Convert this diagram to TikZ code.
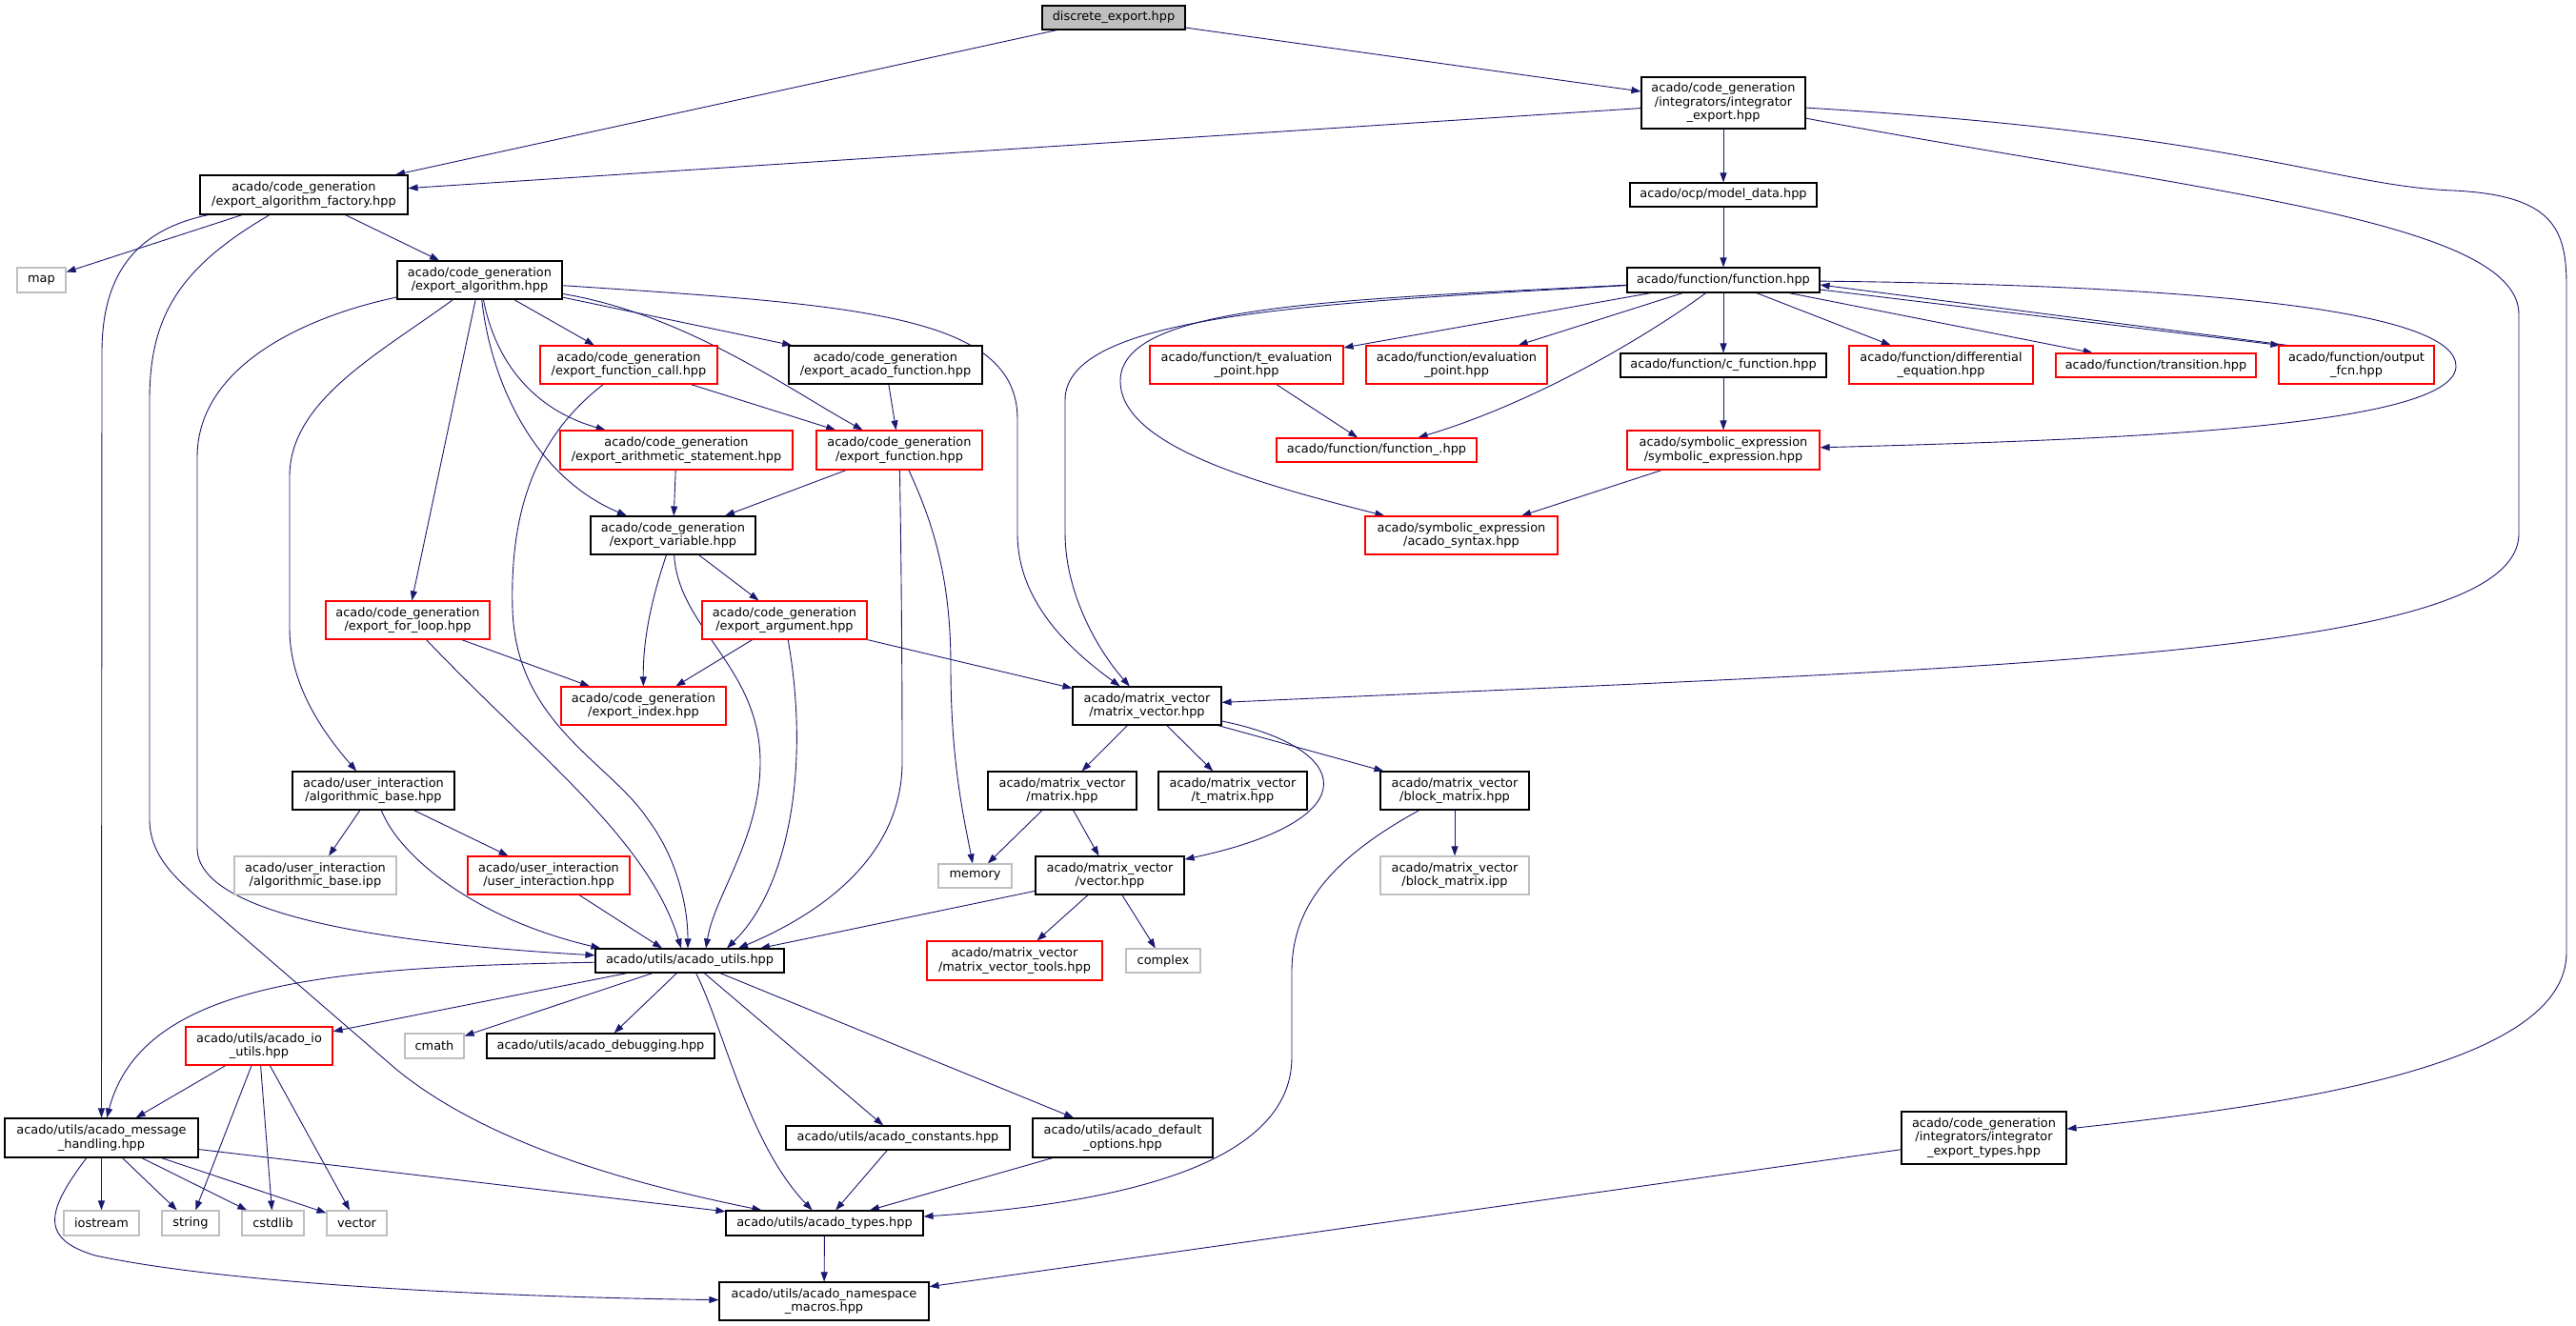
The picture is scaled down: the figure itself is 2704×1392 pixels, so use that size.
\documentclass[tikz,border=0pt]{standalone}
\usepackage{fontspec}
\usepackage{tikz}
\usetikzlibrary{arrows.meta}
\newfontfamily\graphfont{DejaVu Sans}
\definecolor{edgeblue}{RGB}{25,25,112}
\definecolor{boxgray}{RGB}{191,191,191}
\pgfdeclarelayer{edges}
\pgfsetlayers{edges,main}

\begin{document}
\begin{tikzpicture}[x=1pt,y=-1pt,>={Triangle[length=10pt,width=7pt]},
  hfile/.style={draw=black,fill=white,line width=1.1pt,inner sep=0pt,align=center,
    font=\graphfont\fontsize{12.9}{14.5}\selectfont},
  partial/.style={hfile,draw=red},
  sysfile/.style={hfile,draw=boxgray},
  wh/.style 2 args={minimum width=#1pt,minimum height=#2pt},
  inc/.style={->,edgeblue,line width=0.9pt}]

  \node[hfile,fill=boxgray,wh={150}{25}] (root) at (1169,18.5) {discrete\_export.hpp};
  \node[hfile,wh={172}{54}] (intexp) at (1809,108) {acado/code\_generation\\/integrators/integrator\\\_export.hpp};
  \node[hfile,wh={218}{41}] (factory) at (319,204.5) {acado/code\_generation\\/export\_algorithm\_factory.hpp};
  \node[hfile,wh={196}{25}] (modeldata) at (1809,204.5) {acado/ocp/model\_data.hpp};
  \node[sysfile,wh={51}{26}] (map) at (43.5,294) {map};
  \node[hfile,wh={173}{40}] (algo) at (503.5,294) {acado/code\_generation\\/export\_algorithm.hpp};
  \node[hfile,wh={202}{26}] (func) at (1809,294) {acado/function/function.hpp};
  \node[partial,wh={186}{40}] (fcall) at (660,383) {acado/code\_generation\\/export\_function\_call.hpp};
  \node[hfile,wh={203}{40}] (acadofn) at (929.5,383) {acado/code\_generation\\/export\_acado\_function.hpp};
  \node[partial,wh={203}{40}] (tevalpt) at (1308.5,383) {acado/function/t\_evaluation\\\_point.hpp};
  \node[partial,wh={190}{40}] (evalpt) at (1529,383) {acado/function/evaluation\\\_point.hpp};
  \node[hfile,wh={216}{25}] (cfunc) at (1809,383.5) {acado/function/c\_function.hpp};
  \node[partial,wh={193}{40}] (diffeq) at (2037.5,383) {acado/function/differential\\\_equation.hpp};
  \node[partial,wh={210}{25}] (transition) at (2263,383.5) {acado/function/transition.hpp};
  \node[partial,wh={163}{40}] (outfcn) at (2473.5,383) {acado/function/output\\\_fcn.hpp};
  \node[partial,wh={244}{41}] (arith) at (710,472.5) {acado/code\_generation\\/export\_arithmetic\_statement.hpp};
  \node[partial,wh={174}{41}] (expfn) at (944,472.5) {acado/code\_generation\\/export\_function.hpp};
  \node[partial,wh={210}{25}] (funcu) at (1445,472.5) {acado/function/function\_.hpp};
  \node[partial,wh={202}{41}] (symexp) at (1809,472.5) {acado/symbolic\_expression\\/symbolic\_expression.hpp};
  \node[hfile,wh={173}{40}] (variable) at (706.5,562) {acado/code\_generation\\/export\_variable.hpp};
  \node[partial,wh={202}{40}] (syntax) at (1534,562) {acado/symbolic\_expression\\/acado\_syntax.hpp};
  \node[partial,wh={172}{40}] (forloop) at (428,651) {acado/code\_generation\\/export\_for\_loop.hpp};
  \node[partial,wh={173}{40}] (argument) at (823.5,651) {acado/code\_generation\\/export\_argument.hpp};
  \node[partial,wh={173}{40}] (index) at (675.5,741) {acado/code\_generation\\/export\_index.hpp};
  \node[hfile,wh={156}{40}] (mv) at (1204,741) {acado/matrix\_vector\\/matrix\_vector.hpp};
  \node[hfile,wh={170}{40}] (algbase) at (392,830) {acado/user\_interaction\\/algorithmic\_base.hpp};
  \node[hfile,wh={156}{40}] (matrix) at (1115,830) {acado/matrix\_vector\\/matrix.hpp};
  \node[hfile,wh={156}{40}] (tmatrix) at (1294,830) {acado/matrix\_vector\\/t\_matrix.hpp};
  \node[hfile,wh={156}{40}] (blockm) at (1527,830) {acado/matrix\_vector\\/block\_matrix.hpp};
  \node[sysfile,wh={170}{40}] (algipp) at (331,919) {acado/user\_interaction\\/algorithmic\_base.ipp};
  \node[partial,wh={170}{40}] (uinter) at (576,919) {acado/user\_interaction\\/user\_interaction.hpp};
  \node[sysfile,wh={77}{25}] (memory) at (1023.5,919.5) {memory};
  \node[hfile,wh={156}{40}] (vector) at (1165,919) {acado/matrix\_vector\\/vector.hpp};
  \node[sysfile,wh={156}{40}] (blockipp) at (1527,919) {acado/matrix\_vector\\/block\_matrix.ipp};
  \node[partial,wh={184}{41}] (tools) at (1065,1008.5) {acado/matrix\_vector\\/matrix\_vector\_tools.hpp};
  \node[sysfile,wh={78}{25}] (complex) at (1221,1008.5) {complex};
  \node[hfile,wh={198}{25}] (utils) at (724,1008.5) {acado/utils/acado\_utils.hpp};
  \node[partial,wh={154}{40}] (ioutils) at (272,1098) {acado/utils/acado\_io\\\_utils.hpp};
  \node[sysfile,wh={62}{26}] (cmath) at (456,1098) {cmath};
  \node[hfile,wh={239}{26}] (debug) at (630.5,1098) {acado/utils/acado\_debugging.hpp};
  \node[hfile,wh={203}{41}] (msg) at (106.5,1194.5) {acado/utils/acado\_message\\\_handling.hpp};
  \node[hfile,wh={235}{25}] (constants) at (942.5,1194.5) {acado/utils/acado\_constants.hpp};
  \node[hfile,wh={189}{41}] (defopt) at (1178.5,1194.5) {acado/utils/acado\_default\\\_options.hpp};
  \node[hfile,wh={173}{55}] (inttypes) at (2082.5,1194.5) {acado/code\_generation\\/integrators/integrator\\\_export\_types.hpp};
  \node[sysfile,wh={79}{26}] (iostream) at (106.5,1284) {iostream};
  \node[sysfile,wh={60}{26}] (string) at (200,1284) {string};
  \node[sysfile,wh={65}{26}] (cstdlib) at (286.5,1284) {cstdlib};
  \node[sysfile,wh={63}{26}] (stdvector) at (374.5,1284) {vector};
  \node[hfile,wh={207}{26}] (types) at (865.5,1284) {acado/utils/acado\_types.hpp};
  \node[hfile,wh={220}{40}] (macros) at (865,1366) {acado/utils/acado\_namespace\\\_macros.hpp};

  \begin{pgfonlayer}{edges}
  \fill[white] (0,0) rectangle (2704,1392);
  \draw[inc] (root) -- (factory);
  \draw[inc] (root) -- (intexp);
  \draw[inc] (intexp) -- (factory);
  \draw[inc] (intexp) -- (modeldata);
  \draw[inc] (intexp) .. controls (2300,200) and (2644,230) .. (2644,330) -- (2644,560) .. controls (2644,690) and (2100,700) .. (mv);
  \draw[inc] (intexp) .. controls (2350,140) and (2450,195) .. (2575,200) .. controls (2680,205) and (2694,240) .. (2694,300) -- (2694,1000) .. controls (2694,1120) and (2400,1160) .. (inttypes);
  \draw[inc] (inttypes) -- (macros);
  \draw[inc] (modeldata) -- (func);
  \draw[inc] (func) -- (tevalpt);
  \draw[inc] (func) -- (evalpt);
  \draw[inc] (func) .. controls (1740,345) and (1620,420) .. (funcu);
  \draw[inc] (func) -- (cfunc);
  \draw[inc] (func) -- (diffeq);
  \draw[inc] (func) -- (transition);
  \draw[inc] ([yshift=-10pt]func.east) -- ([xshift=2pt]outfcn.north west);
  \draw[inc] ([xshift=10pt]outfcn.north west) -- ([yshift=-5pt]func.east);
  \draw[inc] (func) .. controls (2350,300) and (2580,330) .. (2578,385) .. controls (2575,450) and (2200,462) .. (symexp);
  \draw[inc] (func) .. controls (1400,315) and (1176,320) .. (1176,400) .. controls (1176,470) and (1330,510) .. (syntax);
  \draw[inc] (func) .. controls (1380,318) and (1118,330) .. (1118,420) -- (1118,560) .. controls (1118,620) and (1150,680) .. (mv);
  \draw[inc] (factory) -- (map);
  \draw[inc] (factory) -- (algo);
  \draw[inc] (factory) .. controls (150,240) and (107,280) .. (107,370) -- (msg);
  \draw[inc] (factory) .. controls (190,280) and (157,330) .. (157,420) -- (157,860) .. controls (157,895) and (180,918) .. (205,940) -- (413,1120) .. controls (520,1210) and (700,1250) .. (types);
  \draw[inc] (algo) .. controls (330,330) and (207,380) .. (207,480) -- (207,890) .. controls (207,960) and (400,990) .. (utils);
  \draw[inc] (algo) .. controls (400,370) and (304,420) .. (304,500) -- (304,660) .. controls (304,720) and (340,770) .. (algbase);
  \draw[inc] (algo) -- (forloop);
  \draw[inc] (algo) .. controls (515,400) and (560,500) .. (variable);
  \draw[inc] (algo) .. controls (520,380) and (560,430) .. (arith);
  \draw[inc] (algo) -- (fcall);
  \draw[inc] (algo) -- (acadofn);
  \draw[inc] (algo) .. controls (720,330) and (830,410) .. (expfn);
  \draw[inc] (algo) .. controls (900,320) and (1068,330) .. (1068,440) -- (1068,560) .. controls (1068,630) and (1120,680) .. (mv);
  \draw[inc] (fcall) -- (expfn);
  \draw[inc] (fcall) .. controls (560,460) and (535,540) .. (538,640) .. controls (542,760) and (640,800) .. (680,860) .. controls (710,900) and (722,950) .. ([xshift=-2pt]utils.north);
  \draw[inc] (arith) -- (variable);
  \draw[inc] (acadofn) -- (expfn);
  \draw[inc] (expfn) -- (variable);
  \draw[inc] (expfn) .. controls (985,560) and (998,620) .. (998,700) .. controls (998,800) and (1012,860) .. (memory);
  \draw[inc] (expfn) .. controls (946,580) and (947,700) .. (947,800) .. controls (947,900) and (860,960) .. ([xshift=51pt]utils.north);
  \draw[inc] (variable) -- (argument);
  \draw[inc] (variable) .. controls (680,640) and (675,680) .. (index);
  \draw[inc] (variable) .. controls (712,660) and (798,700) .. (798,800) .. controls (798,880) and (750,940) .. ([xshift=17pt]utils.north);
  \draw[inc] (forloop) -- (index);
  \draw[inc] (forloop) .. controls (560,790) and (680,880) .. ([xshift=-9pt]utils.north);
  \draw[inc] (argument) -- (index);
  \draw[inc] (argument) .. controls (850,800) and (830,930) .. ([xshift=39pt]utils.north);
  \draw[inc] (argument) -- (mv);
  \draw[inc] (algbase) -- (algipp);
  \draw[inc] (algbase) -- (uinter);
  \draw[inc] (algbase) .. controls (420,900) and (500,965) .. ([xshift=6pt]utils.north west);
  \draw[inc] (uinter) -- ([xshift=-29pt]utils.north);
  \draw[inc] (vector) -- ([xshift=74pt]utils.north);
  \draw[inc] (mv) -- (matrix);
  \draw[inc] (mv) -- (tmatrix);
  \draw[inc] (mv) -- (blockm);
  \draw[inc] (mv) .. controls (1420,785) and (1440,860) .. (vector);
  \draw[inc] (matrix) -- (memory);
  \draw[inc] (matrix) -- (vector);
  \draw[inc] (blockm) -- (blockipp);
  \draw[inc] (blockm) .. controls (1400,900) and (1356,950) .. (1356,1020) -- (1356,1110) .. controls (1356,1230) and (1150,1265) .. (types);
  \draw[inc] (vector) -- (tools);
  \draw[inc] (vector) -- (complex);
  \draw[inc] (utils) .. controls (350,1015) and (150,1030) .. (msg);
  \draw[inc] (utils) -- (ioutils);
  \draw[inc] (utils) -- (cmath);
  \draw[inc] (utils) -- (debug);
  \draw[inc] (utils) .. controls (760,1080) and (785,1200) .. (types);
  \draw[inc] (utils) -- (constants);
  \draw[inc] (utils) -- (defopt);
  \draw[inc] (ioutils) -- (msg);
  \draw[inc] (ioutils) -- (string);
  \draw[inc] (ioutils) -- (cstdlib);
  \draw[inc] (ioutils) -- (stdvector);
  \draw[inc] (msg) -- (iostream);
  \draw[inc] (msg) -- (string);
  \draw[inc] (msg) -- (cstdlib);
  \draw[inc] (msg) -- (stdvector);
  \draw[inc] (msg) -- (types);
  \draw[inc] (msg) .. controls (50,1270) and (40,1300) .. (100,1318) .. controls (250,1350) and (550,1362) .. (macros);
  \draw[inc] (constants) -- (types);
  \draw[inc] (defopt) -- (types);
  \draw[inc] (types) -- (macros);
  \draw[inc] (symexp) -- (syntax);
  \draw[inc] (tevalpt) -- (funcu);
  \draw[inc] (cfunc) -- (symexp);
  \end{pgfonlayer}
\end{tikzpicture}
\end{document}
